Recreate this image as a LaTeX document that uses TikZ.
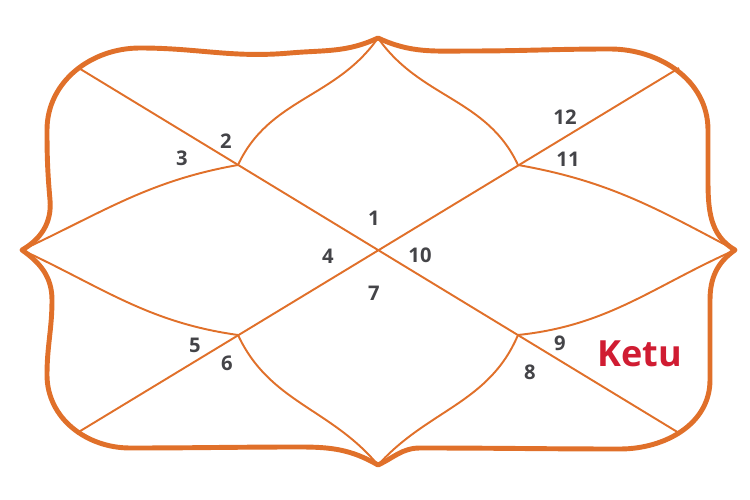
\documentclass[tikz,border=0pt]{standalone}
\usepackage{fontspec}
\setmainfont{Open Sans}
\usepackage{tikz}
\usepackage{xcolor}
\definecolor{chartorange}{RGB}{224,112,42}
\definecolor{ketured}{RGB}{208,28,50}
\definecolor{numgray}{RGB}{68,68,72}

\begin{document}
\begin{tikzpicture}[x=0.2mm, y=0.2mm,
        num/.style={text=numgray, font=\fontsize{11.5}{12}\selectfont\bfseries, inner sep=0pt},
        edge/.style={chartorange, line width=1.1pt},
        rim/.style={chartorange, line width=2.8pt, line join=round}]
        \useasboundingbox (0, 0) rectangle (750, 500);

        % cusps, corners and inner points
        \coordinate (t) at (378, 462);
        \coordinate (b) at (378, 35);
        \coordinate (l) at (22, 250);
        \coordinate (r) at (735, 250);
        \coordinate (tl) at (77, 433);
        \coordinate (tr) at (679, 432);
        \coordinate (bl) at (77, 67);
        \coordinate (br) at (679, 67);
        \coordinate (p1) at (238, 335);
        \coordinate (p2) at (518, 335);
        \coordinate (p3) at (238, 165);
        \coordinate (p4) at (518, 165);

        \draw[rim] (t) to[out=205, in=5] (290, 447) to[out=185, in=0] (140, 452)
            to[out=180, in=90] (47, 370) to[out=-90, in=95] (50, 300) to[out=-85, in=30] (l)
            to[out=-35, in=90] (52, 200) to[out=-90, in=90] (47, 125)
            to[out=-90, in=180] (130, 52) to[out=0, in=180] (300, 53) to[out=0, in=150] (b)
            to[out=25, in=180] (420, 52) to[out=0, in=180] (620, 51)
            to[out=0, in=-90] (710, 120) to[out=90, in=-90] (710, 200) to[out=90, in=215] (r)
            to[out=150, in=-90] (708, 320) to[out=90, in=-90] (708, 370)
            to[out=90, in=0] (610, 451) to[out=180, in=0] (470, 449) to[out=180, in=-25] (t) -- cycle;

        \draw[edge] (tl) to (br)
            (tr) to (bl);
        \draw[edge] (p1) to[out=65, in=-125] (t)
            (p1) to[out=190, in=25] (l)
            (p2) to[out=115, in=-55] (t)
            (p2) to[out=-10, in=152] (r)
            (p3) to[out=172, in=-25] (l)
            (p3) to[out=-65, in=130] (b)
            (p4) to[out=-113, in=48] (b)
            (p4) to[out=6, in=-156] (r);

        \node[num] (h1) at (374, 282) {1};
        \node[num] (h2) at (226, 359) {2};
        \node[num] (h3) at (182, 342) {3};
        \node[num] (h4) at (328, 244) {4};
        \node[num] (h5) at (195, 155) {5};
        \node[num] (h6) at (227, 137) {6};
        \node[num] (h7) at (374, 207) {7};
        \node[num] (h8) at (530, 128) {8};
        \node[num] (h9) at (560, 157) {9};
        \node[num] (h10) at (420, 245) {10};
        \node[num] (h11) at (568, 341) {11};
        \node[num] (h12) at (565, 383) {12};
        \node[text=ketured, font=\fontsize{20.5}{21}\selectfont\bfseries, inner sep=0pt] (ketu) at (640, 146) {Ketu};
    \end{tikzpicture}
\end{document}
